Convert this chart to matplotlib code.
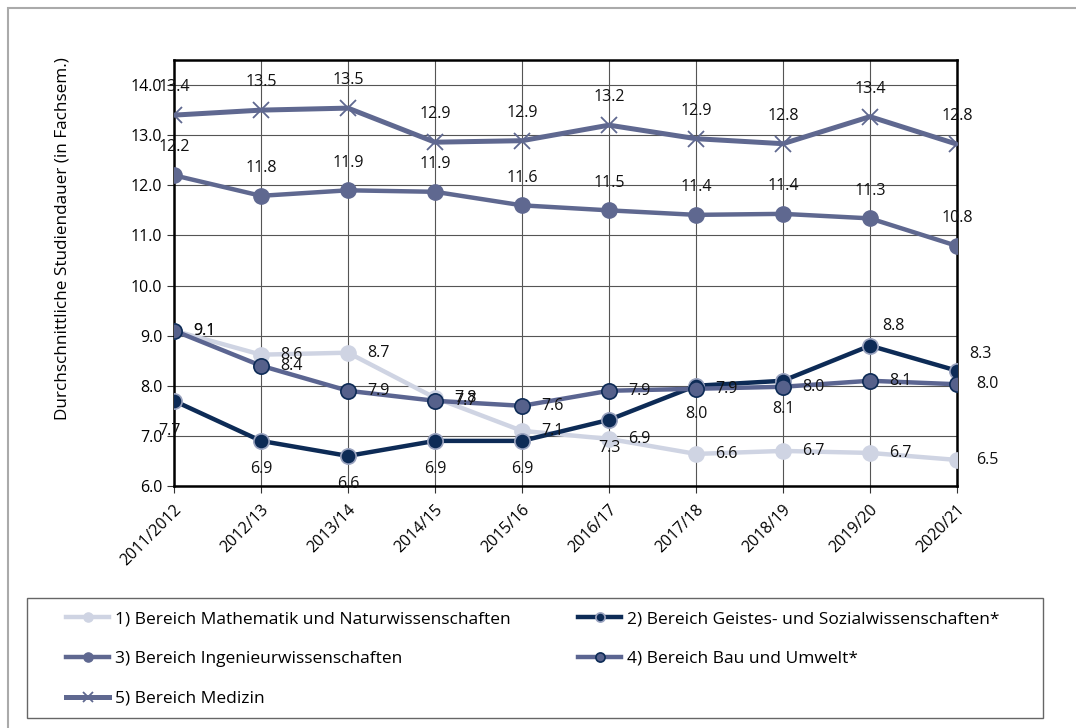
import matplotlib.pyplot as plt
from matplotlib.patches import Rectangle
import numpy as np

plt.rcParams['font.family'] = ['Open Sans', 'DejaVu Sans']
plt.rcParams['font.size'] = 11.5

years = ['2011/2012', '2012/13', '2013/14', '2014/15', '2015/16',
         '2016/17', '2017/18', '2018/19', '2019/20', '2020/21']

mathe = [9.1, 8.62, 8.66, 7.76, 7.1, 6.94, 6.64, 6.7, 6.66, 6.52]
geistes = [7.7, 6.9, 6.6, 6.9, 6.9, 7.32, 8.0, 8.1, 8.8, 8.3]
ingenieur = [12.2, 11.79, 11.9, 11.87, 11.6, 11.5, 11.41, 11.43, 11.34, 10.79]
bau = [9.1, 8.4, 7.9, 7.7, 7.6, 7.9, 7.94, 7.98, 8.1, 8.03]
medizin = [13.4, 13.5, 13.54, 12.86, 12.89, 13.2, 12.93, 12.83, 13.37, 12.82]

names = ['1) Bereich Mathematik und Naturwissenschaften',
         '2) Bereich Geistes- und Sozialwissenschaften*',
         '3) Bereich Ingenieurwissenschaften',
         '4) Bereich Bau und Umwelt*',
         '5) Bereich Medizin']

c_light = '#cfd4e3'
c_navy = '#0d2b56'
c_mid = '#5f6890'
c_bau = '#56618b'

fig = plt.figure(figsize=(10.76, 7.28), dpi=100)
ax = fig.add_axes([174/1076, 1-486/728, (957-174)/1076, (486-60)/728])

x = np.arange(len(years))

h1, = ax.plot(x, mathe, color=c_light, lw=3.2, marker='o', ms=11, mfc=c_light, mec=c_light, zorder=3)
h2, = ax.plot(x, geistes, color=c_navy, lw=3.2, marker='o', ms=11, mfc=c_navy, mec='#9aa3bf', mew=1.2, zorder=4)
h3, = ax.plot(x, ingenieur, color=c_mid, lw=3.2, marker='o', ms=11, mfc=c_mid, mec=c_mid, zorder=4)
h4, = ax.plot(x, bau, color='#5b6591', lw=3.2, marker='o', ms=11, mfc=c_bau, mec=c_navy, mew=1.2, zorder=5)
h5, = ax.plot(x, medizin, color=c_mid, lw=3.6, marker='x', ms=12, mec=c_mid, mew=1.3, zorder=4)


def label(vals, dx, dy, special=None):
    for i, v in enumerate(vals):
        ox, oy = dx, dy
        if special and i in special:
            ox, oy = special[i]
        ax.annotate(f'{v:.1f}', (i, v), xytext=(ox, oy), textcoords='offset points',
                    ha='center', va='center', fontsize=11.5, color='#111', zorder=6,
                    annotation_clip=False)


label(mathe, 22, 0)
label(bau, 22, 0)
label(geistes, 0, -20, special={0: (-3, -22), 8: (17, 14), 9: (17, 12)})
label(ingenieur, 0, 20)
label(medizin, 0, 20)

ax.set_xlim(0, 9)
ax.set_ylim(6, 14.5)
ax.set_yticks(np.arange(6, 14.01, 1.0))
ax.set_yticklabels([f'{v:.1f}' for v in np.arange(6, 14.01, 1.0)])
ax.set_xticks(x)
ax.set_xticklabels(years, rotation=45, ha='right', rotation_mode='anchor')
ax.tick_params(axis='both', direction='out', length=5, color='#333', labelsize=11.5)
ax.tick_params(axis='x', pad=6)
ax.grid(True, color='#555', lw=0.8)
ax.set_axisbelow(True)
for s in ax.spines.values():
    s.set_color('black')
    s.set_linewidth(1.8)

ax.set_ylabel('Durchschnittliche Studiendauer (in Fachsem.)', fontsize=12.3)
ax.yaxis.set_label_coords(-103/783, 0.58)

# legend: two columns placed by hand inside one frame
leg_kw = dict(loc='upper left', frameon=False, handlelength=2.5, handletextpad=0.3,
              labelspacing=1.36, borderpad=0, borderaxespad=0, markerscale=0.6,
              fontsize=12.5)
leg1 = fig.legend([h1, h3, h5], [names[0], names[2], names[4]],
                  bbox_to_anchor=(66/1076, 1-611/728), **leg_kw)
leg2 = fig.legend([h2, h4], [names[1], names[3]],
                  bbox_to_anchor=(578/1076, 1-611/728), **leg_kw)

fig.patches.append(Rectangle((27/1076, 1-718/728), (1043-27)/1076, 120/728,
                             transform=fig.transFigure, fill=False,
                             edgecolor='#666', lw=1.0, zorder=0))
fig.patches.append(Rectangle((8/1076, -0.05), 1.1, 1-8/728+0.05, transform=fig.transFigure,
                             fill=False, edgecolor='#aaa', lw=1.5, zorder=0))

fig.savefig('out.png', dpi=100)
